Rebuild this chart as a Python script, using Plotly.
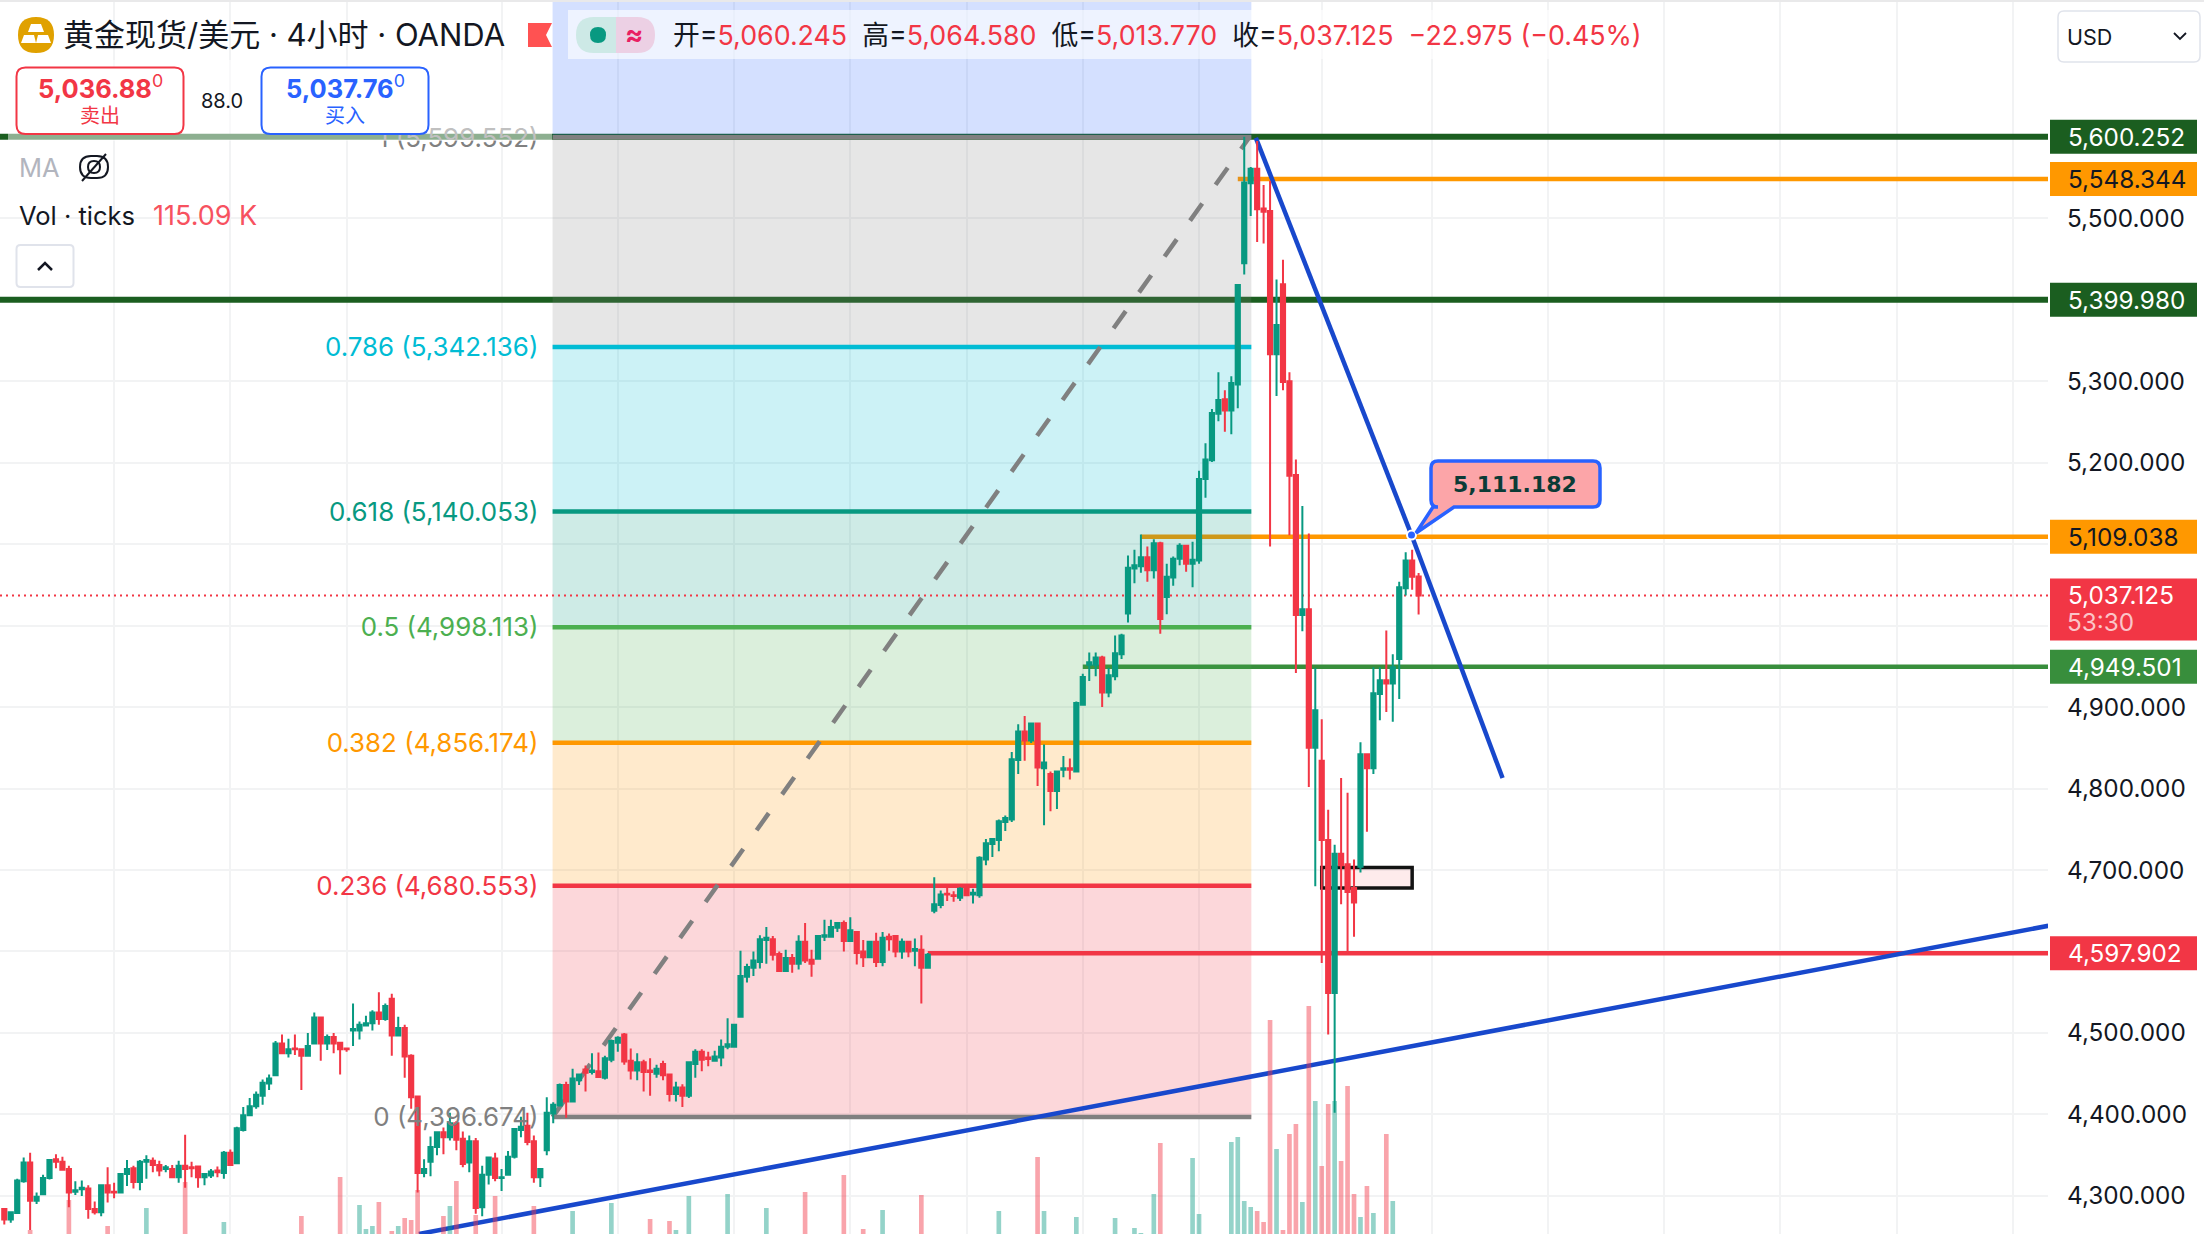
import plotly.graph_objects as go

opens = [4284,4271,4279,4318,4341,4294,4302,4322,4345,4342,4333,4305,4308,4309,4284,4280,4313,4305,4304,4327,
4334,4317,4342,4343,4338,4333,4333,4323,4337,4335,4336,4323,4325,4331,4328,4353,4340,4381,4399,4410,
4423,4438,4448,4487,4475,4481,4480,4472,4487,4519,4487,4495,4488,4481,4503,4503,4509,4512,4525,4517,
4542,4497,4506,4472,4422,4328,4342,4360,4378,4372,4389,4370,4341,4367,4286,4326,4346,4322,4326,4348,
4381,4386,4367,4323,4356,4401,4411,4436,4416,4442,4455,4452,4453,4445,4467,4488,4498,4466,4454,4464,
4454,4450,4462,4449,4425,4433,4423,4462,4477,4470,4466,4470,4483,4483,4520,4569,4580,4587,4614,4615,
4597,4576,4592,4585,4612,4590,4591,4618,4618,4629,4635,4613,4624,4600,4593,4612,4587,4618,4619,4600,
4612,4601,4602,4580,4650,4657,4671,4669,4666,4677,4670,4669,4713,4732,4737,4759,4762,4835,4870,4859,
4880,4825,4818,4797,4823,4825,4821,4903,4952,4952,4961,4918,4938,4965,5015,5070,5073,5084,5068,5101,
5035,5059,5082,5098,5076,5080,5180,5203,5260,5278,5264,5296,5445,5543,5561,5512,5509,5333,5419,5300,
5185,5013,5020,4850,4834,4737,4549,4720,4707,4678,4704,4842,4825,4916,4933,4929,4959,5046,5080,5060.245]
highs = [4284,4281,4321,4347,4353,4304,4326,4345,4351,4348,4337,4318,4319,4313,4293,4314,4335,4316,4327,4344,
4337,4344,4350,4347,4343,4338,4338,4343,4375,4342,4337,4328,4333,4336,4355,4357,4385,4409,4420,4428,
4443,4449,4490,4498,4493,4498,4481,4500,4525,4520,4498,4500,4489,4482,4536,4514,4521,4528,4550,4536,
4548,4520,4510,4474,4422,4345,4373,4379,4384,4402,4392,4379,4374,4371,4337,4348,4353,4333,4355,4383,
4397,4402,4374,4333,4421,4415,4438,4440,4456,4450,4460,4475,4476,4472,4492,4496,4500,4481,4475,4467,
4469,4461,4466,4450,4440,4437,4465,4480,4480,4477,4478,4492,4518,4511,4601,4585,4600,4620,4630,4619,
4600,4602,4597,4620,4635,4602,4619,4639,4639,4635,4638,4642,4625,4614,4613,4623,4624,4622,4620,4616,
4612,4616,4620,4598,4691,4675,4679,4674,4679,4679,4677,4717,4738,4739,4762,4767,4845,4879,4889,4880,
4881,4854,4821,4822,4840,4837,4907,4941,4967,4967,4963,4948,4988,4990,5086,5093,5112,5097,5106,5103,
5076,5085,5101,5098,5103,5190,5224,5266,5311,5289,5306,5419,5600,5563,5595,5541,5546,5425,5449,5311,
5204,5147,5113,4948,4885,4774,4731,4813,4795,4713,4857,4842,4949,4949,4994,4965,5054,5090,5093,5064.58]
lows = [4265,4267,4278,4316,4258,4290,4301,4320,4334,4332,4286,4301,4300,4272,4277,4275,4292,4297,4304,4312,
4309,4307,4321,4329,4324,4329,4322,4316,4310,4323,4310,4313,4322,4323,4321,4338,4340,4379,4399,4407,
4412,4430,4448,4475,4470,4473,4430,4472,4487,4466,4479,4475,4449,4477,4484,4492,4508,4503,4510,4515,
4472,4497,4445,4407,4304,4323,4324,4350,4351,4368,4356,4335,4329,4278,4275,4314,4318,4306,4325,4346,
4372,4362,4316,4311,4350,4389,4411,4396,4416,4436,4428,4449,4446,4443,4464,4477,4461,4443,4442,4428,
4423,4445,4442,4416,4416,4409,4420,4445,4453,4459,4465,4459,4480,4483,4520,4562,4570,4579,4585,4589,
4575,4576,4574,4578,4586,4569,4591,4613,4618,4624,4600,4613,4584,4581,4592,4581,4582,4601,4593,4591,
4593,4582,4536,4580,4647,4653,4662,4661,4662,4668,4659,4666,4706,4716,4723,4748,4759,4818,4834,4856,
4803,4755,4772,4775,4814,4811,4821,4902,4932,4938,4900,4912,4933,4959,5004,5052,5065,5054,5058,4990,
5014,5049,5074,5066,5047,5076,5157,5201,5251,5238,5235,5267,5431,5503,5471,5469,5097,5282,5289,5111,
4942,4993,4802,4680,4586,4498,4402,4658,4599,4618,4697,4747,4818,4884,4894,4882,4910,5037,5044,5013.77]
closes = [4271,4280,4319,4341,4294,4299,4322,4344,4342,4332,4304,4307,4310,4284,4280,4313,4304,4304,4327,4333,
4317,4342,4344,4338,4331,4335,4323,4337,4333,4334,4323,4327,4330,4329,4353,4338,4383,4399,4410,4424,
4439,4444,4487,4475,4480,4480,4472,4484,4519,4487,4495,4487,4480,4480,4505,4510,4512,4525,4517,4533,
4497,4506,4471,4421,4328,4333,4360,4378,4372,4389,4369,4339,4367,4285,4326,4347,4322,4323,4348,4382,
4385,4366,4323,4333,4402,4412,4436,4416,4444,4449,4451,4454,4446,4469,4490,4494,4465,4454,4464,4452,
4452,4456,4448,4425,4433,4423,4464,4477,4467,4468,4471,4483,4486,4510,4570,4581,4589,4615,4617,4596,
4576,4592,4585,4612,4589,4585,4619,4620,4630,4635,4613,4626,4598,4593,4612,4587,4617,4615,4600,4612,
4600,4603,4580,4596,4658,4670,4670,4668,4677,4669,4672,4715,4733,4738,4760,4764,4836,4870,4859,4880,
4826,4832,4797,4821,4825,4823,4905,4937,4955,4961,4918,4939,4966,4988,5071,5074,5084,5068,5101,5008,
5060,5082,5098,5076,5081,5180,5204,5261,5277,5264,5298,5418,5544,5561,5511,5508,5333,5369,5299,5184,
5013,5020,4850,4896,4737,4549,4720,4706,4673,4660,4842,4825,4917,4933,4929,4949,5047,5080,5060,5037.125]
assert len(opens) == len(highs) == len(lows) == len(closes) == 220
bars = list(range(220))

# volume in thousands of ticks (only the bars that rise into view, plus the last one)
vol_bar = [4,10,16,22,28,34,46,52,55,56,57,58,60,61,62,63,64,68,69,70,73,76,82,88,94,100,103,104,106,112,118,
124,130,133,136,142,154,160,161,166,172,175,176,178,179,184,185,190,191,192,193,194,195,196,197,198,199,
200,201,202,203,204,205,206,207,208,209,210,211,212,214,215,219]
vol_k = [154,184,158,176,202,162,168,207,179,155,158,182,153,158,166,164,194,168,178,203,169,188,178,173,181,165,163,154,188,190,176,
192,209,155,174,189,173,227,173,167,166,156,151,190,241,226,170,242,247,183,177,173,162,364,235,154,250,
260,182,378,283,218,280,283,223,298,190,167,198,171,250,183,115.09]
vol_px_per_k = 1.0

fib_ratio = ["0", "0.236", "0.382", "0.5", "0.618", "0.786", "1"]
fib_price = [4396.674, 4680.553, 4856.174, 4998.113, 5140.053, 5342.136, 5599.552]
fib_color = ["#808080", "#F23645", "#FF9800", "#4CAF50", "#089981", "#00BCD4", "#808080"]
fib_fill = ["242,54,69", "255,152,0", "76,175,80", "8,153,129", "0,188,212", "128,128,128"]
fib_left, fib_right = 84.9, 193.1

ray_price = [5600.252, 5548.344, 5399.980, 5109.038, 4949.501, 4597.902]
ray_start = [-1, 191, -1, 176, 167, 143]
ray_color = ["#1B5E20", "#FF9800", "#1B5E20", "#FF9800", "#388E3C", "#F23645"]
ray_text = ["#FFFFFF", "#131722", "#FFFFFF", "#131722", "#FFFFFF", "#FFFFFF"]
ray_label = ["5,600.252", "5,548.344", "5,399.980", "5,109.038", "4,949.501", "4,597.902"]

down_x = [193.8, 217.9, 232.0]
down_y = [5598.8, 5111.182, 4813.0]
up_x = [64.2, 316.5]
up_y = [4253.2, 4631.5]
box_x = [204, 218]
box_y = [4678, 4703]
last_price = 5037.125

x_ticks = [17,35,53,77,95,113,131,149,167,185,204,221,239,257,275,293,311]
y_min, y_max = 4253.2, 5768.0
x_min, x_max = -0.666, 316.46
price_ticks = [4300, 4400, 4500, 4700, 4800, 4900, 5200, 5300, 5500]
hidden_ticks = [4600, 5000, 5100, 5400, 5600]

W, H, PW = 2204, 1234, 2048
FONT = "Inter, 'Noto Sans CJK SC', sans-serif"
X = lambda px: px / PW
Y = lambda py: 1 - py / H
px_per_price = H / (y_max - y_min)


def rr(x0, y0, x1, y1, r):
    return (f"M{X(x0+r)},{Y(y0)} L{X(x1-r)},{Y(y0)} Q{X(x1)},{Y(y0)} {X(x1)},{Y(y0+r)} "
            f"L{X(x1)},{Y(y1-r)} Q{X(x1)},{Y(y1)} {X(x1-r)},{Y(y1)} L{X(x0+r)},{Y(y1)} "
            f"Q{X(x0)},{Y(y1)} {X(x0)},{Y(y1-r)} L{X(x0)},{Y(y0+r)} Q{X(x0)},{Y(y0)} {X(x0+r)},{Y(y0)} Z")


def poly(pts):
    return "M" + " L".join(f"{X(a)},{Y(b)}" for a, b in pts) + " Z"


fig = go.Figure()

# volume, drawn from a base below the visible part of the pane
vol_base = y_min - 150 * vol_px_per_k / px_per_price
fig.add_trace(go.Bar(
    x=vol_bar,
    y=[v * vol_px_per_k / px_per_price for v in vol_k],
    base=vol_base,
    width=0.72,
    marker=dict(color=["rgba(8,153,129,0.43)" if closes[b] >= opens[b] else "rgba(242,54,69,0.45)" for b in vol_bar],
                line=dict(width=0)),
    hoverinfo="skip",
))
fig.add_trace(go.Candlestick(
    x=bars, open=opens, high=highs, low=lows, close=closes,
    increasing=dict(line=dict(color="#089981", width=2), fillcolor="#089981"),
    decreasing=dict(line=dict(color="#F23645", width=2), fillcolor="#F23645"),
    whiskerwidth=0, hoverinfo="skip",
))

# fib labels as in-plot text
for r, p, c in zip(fib_ratio, fib_price, fib_color):
    fig.add_trace(go.Scatter(
        x=[fib_left - 2.2], y=[p - 3.5], mode="text", text=[f"{r} ({p:,.3f})"],
        textposition="middle left", textfont=dict(family=FONT, size=25.9, color=c),
        hoverinfo="skip", cliponaxis=False,
    ))
# selected anchor on the trend line
fig.add_trace(go.Scatter(
    x=[down_x[1]], y=[down_y[1]], mode="markers",
    marker=dict(size=9, color="#2962FF", line=dict(color="#FFFFFF", width=2)), hoverinfo="skip",
))

shapes = []
for p, s, c in zip(ray_price, ray_start, ray_color):
    shapes.append(dict(type="line", layer="between", xref="x", yref="y", x0=s, x1=x_max + 1, y0=p, y1=p,
                       line=dict(color=c, width=6 if c == "#1B5E20" else 4.5)))
# fib fills and lines over the rays
for i in range(6):
    shapes.append(dict(type="rect", layer="between", xref="x", yref="y", x0=fib_left, x1=fib_right,
                       y0=fib_price[i], y1=fib_price[i + 1], fillcolor=f"rgba({fib_fill[i]},0.2)", line=dict(width=0)))
shapes.append(dict(type="rect", layer="between", xref="x", yref="y", x0=fib_left, x1=fib_right,
                   y0=fib_price[6], y1=y_max, fillcolor="rgba(41,98,255,0.2)", line=dict(width=0)))
for p, c in zip(fib_price, fib_color):
    shapes.append(dict(type="line", layer="between", xref="x", yref="y", x0=fib_left, x1=fib_right, y0=p, y1=p,
                       line=dict(color=c, width=4.5)))
shapes.append(dict(type="line", layer="between", xref="x", yref="y", x0=fib_left, x1=fib_right - 0.3,
                   y0=fib_price[0], y1=fib_price[6], line=dict(color="#808080", width=4.5, dash="21px,23px")))
shapes.append(dict(type="line", layer="between", xref="x", yref="y", x0=x_min, x1=x_max + 1,
                   y0=last_price, y1=last_price, line=dict(color="#F23645", width=2, dash="2px,4px")))
shapes.append(dict(type="rect", layer="between", xref="x", yref="y", x0=box_x[0], x1=box_x[1], y0=box_y[0], y1=box_y[1],
                   fillcolor="rgba(242,54,69,0.1)", line=dict(color="#131313", width=3.5)))
for i in range(2):
    shapes.append(dict(type="line", layer="between", xref="x", yref="y", x0=down_x[i], x1=down_x[i + 1],
                       y0=down_y[i], y1=down_y[i + 1], line=dict(color="#1848CC", width=4.5)))
shapes.append(dict(type="line", layer="between", xref="x", yref="y", x0=up_x[0], x1=up_x[1], y0=up_y[0], y1=up_y[1],
                   line=dict(color="#1848CC", width=4.5)))


def add_path(path, fill="rgba(0,0,0,0)", line=None, width=0):
    shapes.append(dict(type="path", layer="above", xref="paper", yref="paper", path=path, fillcolor=fill,
                       line=dict(color=line or "rgba(0,0,0,0)", width=width)))


# page chrome
add_path(poly([(0, 0), (W, 0), (W, 2), (0, 2)]), "#E9E9EA")
add_path(poly([(8, 60), (552, 60), (552, 141), (8, 141)]), "rgba(255,255,255,0.5)")
add_path(poly([(568, 10), (1651, 10), (1651, 59), (568, 59)]), "rgba(255,255,255,0.6)")
add_path(poly([(528, 23), (552, 23), (546, 35), (552, 47), (528, 47)]), "#FF5252")
add_path(rr(18, 17, 54, 53, 18), "#E0A100")
add_path(poly([(31, 24), (41, 24), (44, 32), (28, 32)]), "#FFFFFF")
add_path(poly([(24, 35), (34, 35), (36, 43), (21, 43)]), "#FFFFFF")
add_path(poly([(38, 35), (48, 35), (51, 43), (36, 43)]), "#FFFFFF")
add_path(f"M{X(616)},{Y(17)} L{X(594)},{Y(17)} Q{X(576)},{Y(17)} {X(576)},{Y(35)} Q{X(576)},{Y(53)} {X(594)},{Y(53)} L{X(616)},{Y(53)} Z", "#CDE9E6")
add_path(f"M{X(616)},{Y(17)} L{X(637)},{Y(17)} Q{X(655)},{Y(17)} {X(655)},{Y(35)} Q{X(655)},{Y(53)} {X(637)},{Y(53)} L{X(616)},{Y(53)} Z", "#ECD0E4")
add_path(rr(590, 27, 606, 43, 8), "#089981")
add_path(rr(16.5, 67.5, 183.5, 134, 9), "#FFFFFF", "#F23645", 2)
add_path(rr(261.5, 67.5, 428.5, 134, 9), "#FFFFFF", "#2962FF", 2)
add_path(rr(80, 156, 108, 178, 11), "rgba(0,0,0,0)", "#131722", 2)
add_path(rr(88, 161, 100, 173, 6), "rgba(0,0,0,0)", "#131722", 2)
add_path(f"M{X(82)},{Y(181)} L{X(106)},{Y(154)}", "rgba(0,0,0,0)", "#131722", 2)
add_path(rr(16.5, 245, 73.5, 287, 4), "#FFFFFF", "#E0E3EB", 2)
add_path(f"M{X(38)},{Y(270)} L{X(45)},{Y(263)} L{X(52)},{Y(270)}", "rgba(0,0,0,0)", "#131722", 2.5)
add_path(rr(2058, 11, 2200, 62, 6), "#FFFFFF", "#E0E3EB", 1.5)
add_path(f"M{X(2174)},{Y(33)} L{X(2180)},{Y(39)} L{X(2186)},{Y(33)}", "rgba(0,0,0,0)", "#131722", 1.8)
# callout
r = 7
add_path(f"M{X(1431+r)},{Y(461)} L{X(1600-r)},{Y(461)} Q{X(1600)},{Y(461)} {X(1600)},{Y(461+r)} L{X(1600)},{Y(507-r)} "
         f"Q{X(1600)},{Y(507)} {X(1600-r)},{Y(507)} L{X(1454)},{Y(507)} L{X(1416)},{Y(533)} L{X(1433)},{Y(507)} "
         f"L{X(1431+r)},{Y(507)} Q{X(1431)},{Y(507)} {X(1431)},{Y(507-r)} L{X(1431)},{Y(461+r)} Q{X(1431)},{Y(461)} {X(1431+r)},{Y(461)} Z",
         "#FCA5A8", "#2962FF", 3.5)

annotations = []


def note(px, py, text, size=22, color="#131722", anchor="left", family=FONT):
    annotations.append(dict(xref="paper", yref="paper", x=X(px), y=Y(py), text=text, showarrow=False, xanchor=anchor,
                            yanchor="middle", font=dict(family=family, size=size, color=color), borderpad=0))


# right-hand price labels
TICK_SIZE = 24.3
for p, c, tc, lab in zip(ray_price, ray_color, ray_text, ray_label):
    shapes.append(dict(type="rect", layer="above", xref="paper", yref="y", ysizemode="pixel", yanchor=p,
                       x0=X(2050), x1=X(2197), y0=-17, y1=17, fillcolor=c, line=dict(width=0)))
    annotations.append(dict(xref="paper", yref="y", x=X(2066), y=p, text=lab, showarrow=False, xanchor="left",
                            yanchor="middle", font=dict(family=FONT, size=TICK_SIZE, color=tc)))
shapes.append(dict(type="rect", layer="above", xref="paper", yref="y", ysizemode="pixel", yanchor=last_price,
                   x0=X(2050), x1=X(2197), y0=17, y1=-45, fillcolor="#F23645", line=dict(width=0)))
annotations.append(dict(xref="paper", yref="y", x=X(2066), y=last_price, text=f"{last_price:,.3f}", showarrow=False,
                        xanchor="left", yanchor="middle", font=dict(family=FONT, size=TICK_SIZE, color="#FFFFFF")))
note(2066, 622, "53:30", TICK_SIZE, "#FBC4C8")
note(2066, 37, "USD", 21.5, "#131722")

note(62, 35, "黄金现货/美元 · 4小时 · OANDA", 31)
red = "#F23645"
sep = "&nbsp;&nbsp;"
ohlc_text = (f"开=<span style='color:{red}'>5,060.245</span>{sep}高=<span style='color:{red}'>5,064.580</span>{sep}"
             f"低=<span style='color:{red}'>5,013.770</span>{sep}收=<span style='color:{red}'>5,037.125</span>{sep}"
             f"<span style='color:{red}'>−22.975 (−0.45%)</span>")
note(672, 35, ohlc_text, 26.8)
note(634, 35, "<b>≈</b>", 27, "#E91E63", "center")
note(100, 87, "<b>5,036.88</b><sup>0</sup>", 25.5, "#F23645", "center")
note(100, 116, "卖出", 20, "#F23645", "center")
note(345, 87, "<b>5,037.76</b><sup>0</sup>", 25.5, "#2962FF", "center")
note(345, 116, "买入", 20, "#2962FF", "center")
note(222, 101, "88.0", 20, "#131722", "center")
note(18, 168, "MA", 25.5, "#B2B5BE")
note(18, 216, "Vol · ticks", 25.5)
note(152, 216, "115.09 K", 27, "#F7525F")
note(1515, 484, "<b>5,111.182</b>", 22, "#0B3B36", "center", "DejaVu Sans")

fig.update_layout(
    width=W, height=H, autosize=False,
    margin=dict(l=0, r=W - PW, t=0, b=0, pad=0),
    paper_bgcolor="#FFFFFF", plot_bgcolor="#FFFFFF",
    showlegend=False, dragmode=False, boxgap=0.35, boxgroupgap=0, hovermode=False,
    shapes=shapes, annotations=annotations,
    xaxis=dict(range=[x_min, x_max], rangeslider=dict(visible=False), tickvals=x_ticks, showticklabels=False,
               showgrid=True, gridcolor="#F2F3F4", gridwidth=2, zeroline=False, ticks="", showline=False),
    yaxis=dict(range=[y_min, y_max], side="right", tickvals=price_ticks, tickformat=",.3f", showgrid=True,
               gridcolor="#F2F3F4", gridwidth=2, zeroline=False, ticks="", showline=False, ticklabelstandoff=18,
               tickfont=dict(family=FONT, size=TICK_SIZE, color="#131722"),
               minor=dict(tickvals=hidden_ticks, showgrid=True, gridcolor="#F2F3F4", gridwidth=2, ticks="")),
    font=dict(family=FONT),
)
fig.write_html("out.html", config={"displayModeBar": False},
               post_script="document.body.style.margin='0';document.body.style.overflow='hidden';")
